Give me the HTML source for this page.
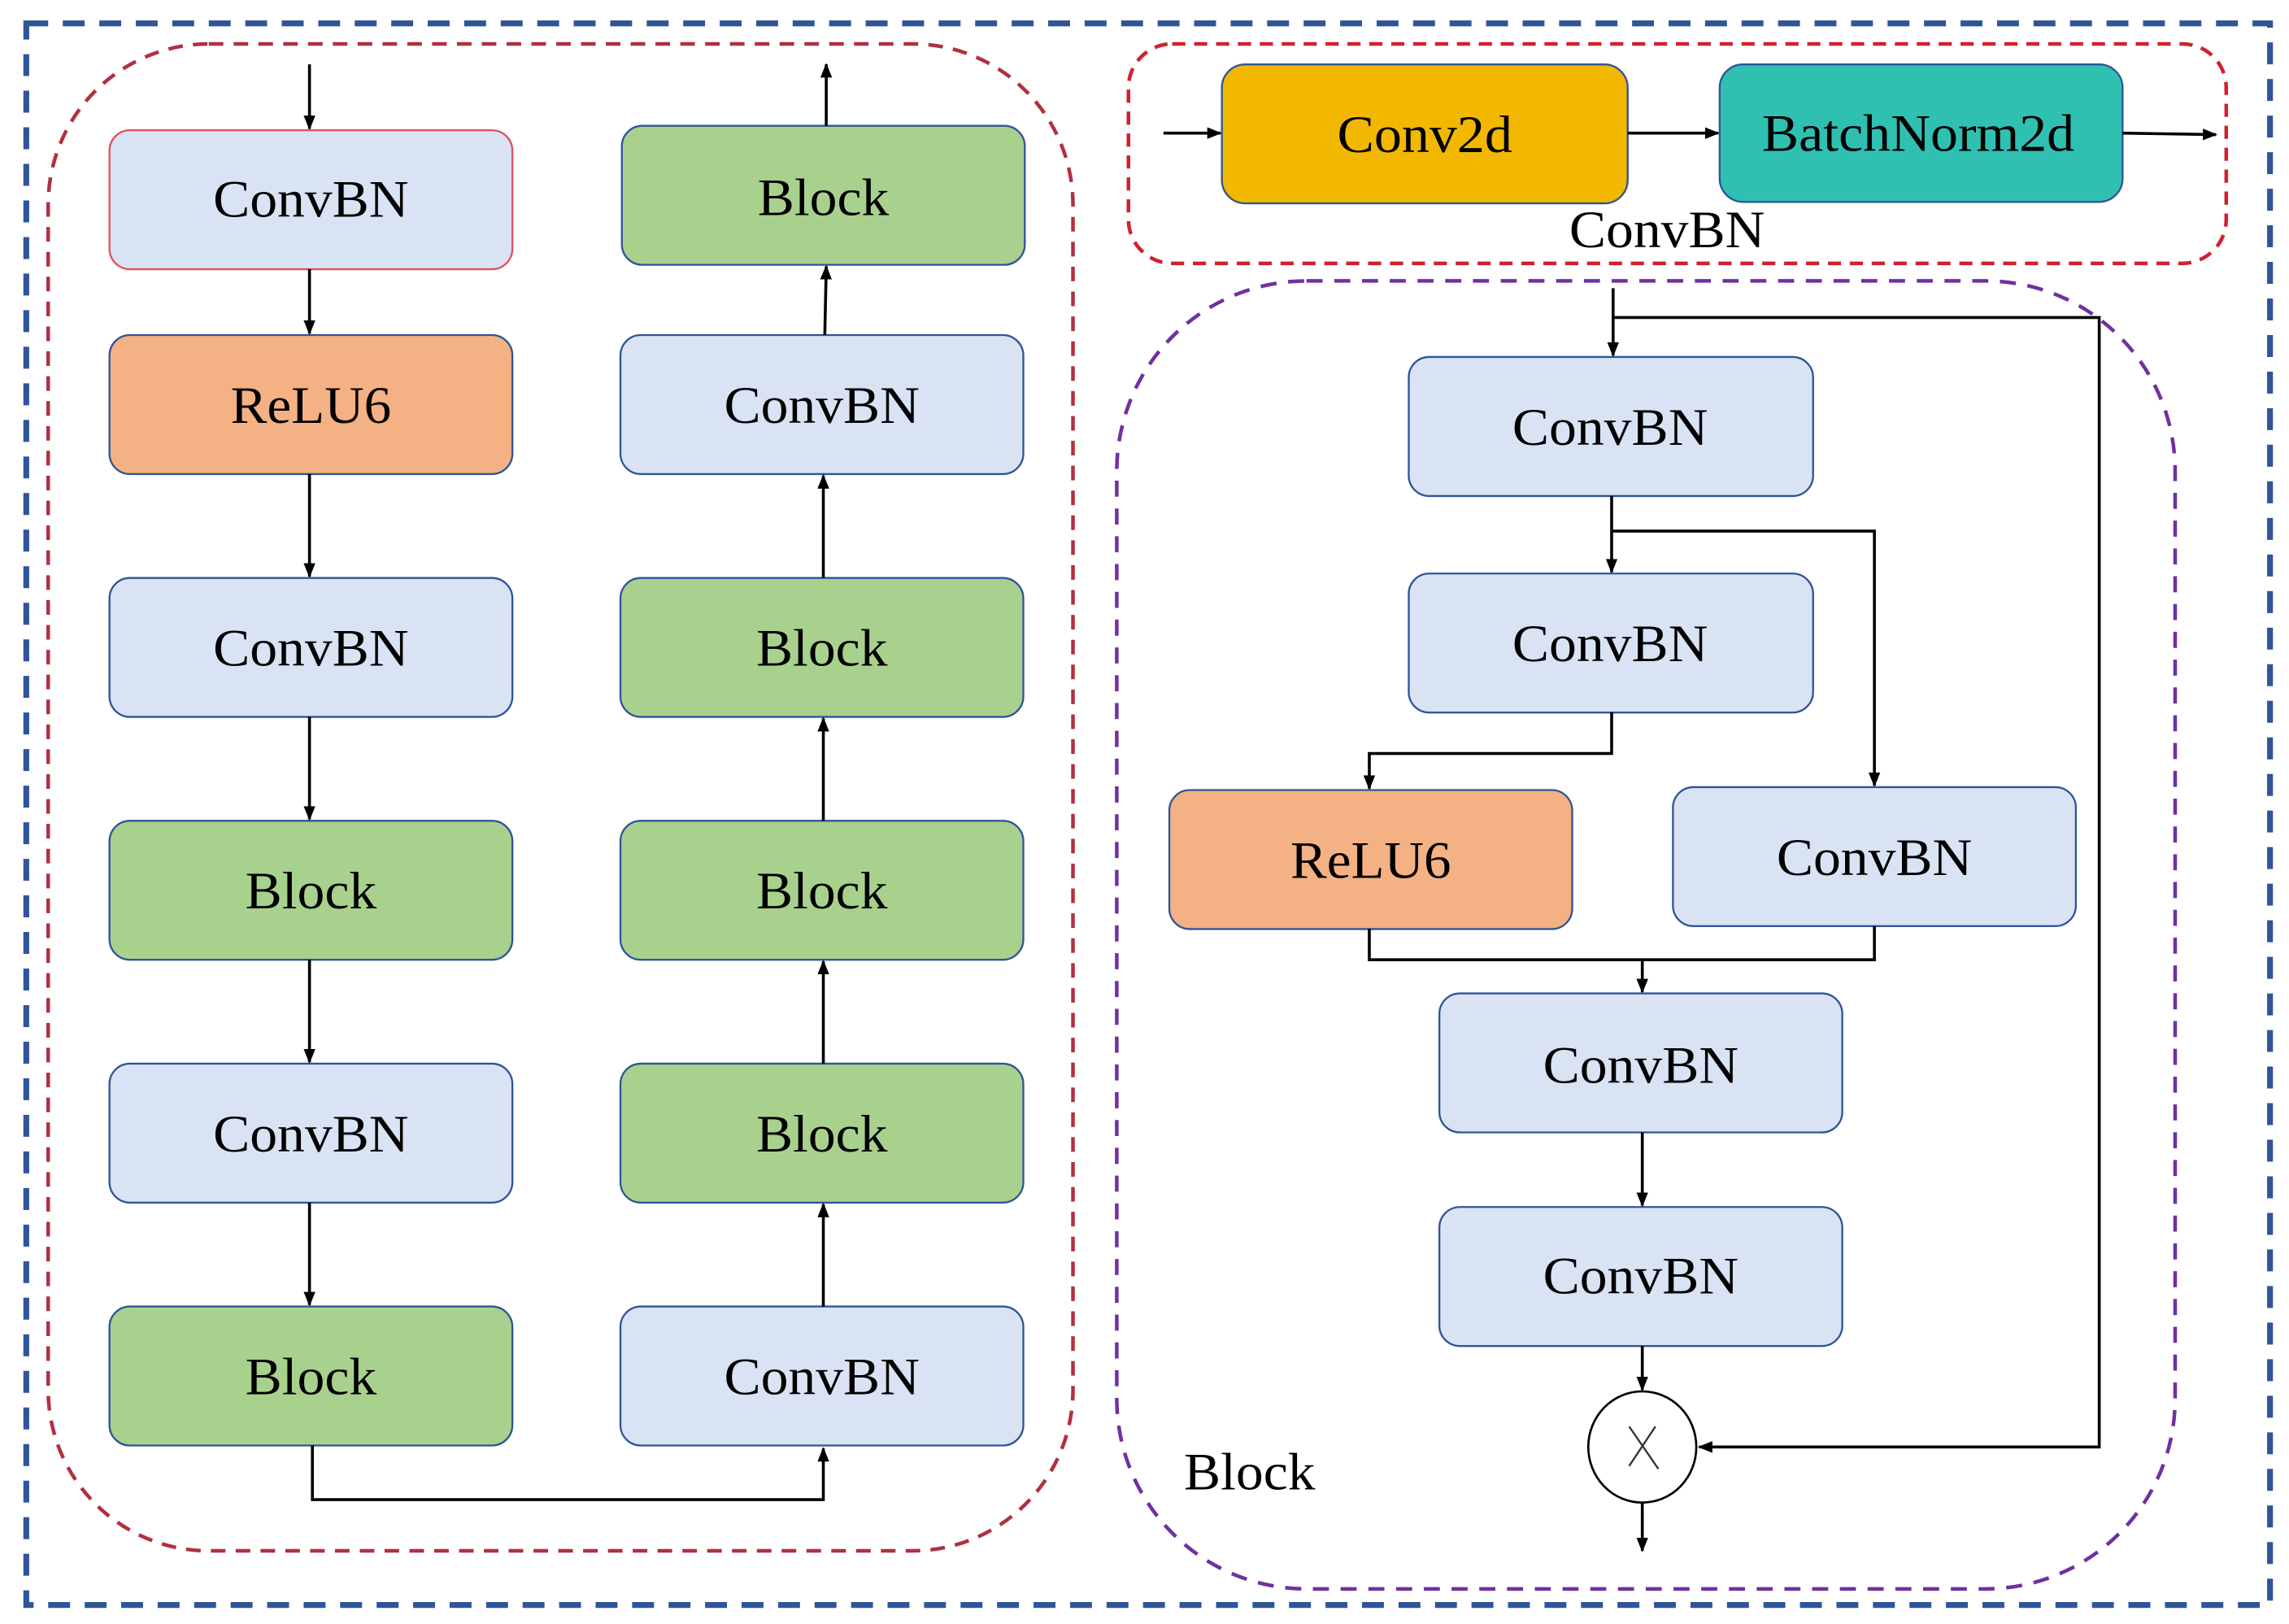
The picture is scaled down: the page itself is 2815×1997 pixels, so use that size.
<!DOCTYPE html>
<html><head><meta charset="utf-8"><style>html,body{margin:0;padding:0;background:#fff}svg{display:block}</style></head>
<body>
<svg width="2815" height="1997" viewBox="0 0 1568 1110" preserveAspectRatio="none" xmlns="http://www.w3.org/2000/svg">
<defs>
<marker id="a" markerWidth="10" markerHeight="10" refX="9" refY="5" orient="auto" markerUnits="userSpaceOnUse"><path d="M0,1 L10,5 L0,9 Z" fill="#000"/></marker>
</defs>
<rect width="1568" height="1110" fill="#fff"/>
<rect x="18" y="16" width="1537" height="1081" fill="none" stroke="#2f5597" stroke-width="4" stroke-dasharray="15,10"/>
<rect x="33" y="30" width="702" height="1030" rx="110" fill="none" stroke="#b03040" stroke-width="2.5" stroke-dasharray="10,7"/>
<rect x="773" y="30" width="752" height="150" rx="30" fill="none" stroke="#d02030" stroke-width="2.5" stroke-dasharray="9,6"/>
<rect x="765" y="192" width="725" height="894" rx="130" fill="none" stroke="#7030a0" stroke-width="2.5" stroke-dasharray="11,8"/>

<g stroke-width="1.3" font-family="Liberation Serif, serif" font-size="36" text-anchor="middle">
<rect x="75" y="89" width="276" height="95" rx="14" fill="#dae3f3" stroke="#e05060"/>
<rect x="75" y="229" width="276" height="95" rx="14" fill="#f4b183" stroke="#2f5597"/>
<rect x="75" y="395" width="276" height="95" rx="14" fill="#dae3f3" stroke="#2f5597"/>
<rect x="75" y="561" width="276" height="95" rx="14" fill="#a9d18e" stroke="#2f5597"/>
<rect x="75" y="727" width="276" height="95" rx="14" fill="#dae3f3" stroke="#2f5597"/>
<rect x="75" y="893" width="276" height="95" rx="14" fill="#a9d18e" stroke="#2f5597"/>
<rect x="426" y="86" width="276" height="95" rx="14" fill="#a9d18e" stroke="#2f5597"/>
<rect x="425" y="229" width="276" height="95" rx="14" fill="#dae3f3" stroke="#2f5597"/>
<rect x="425" y="395" width="276" height="95" rx="14" fill="#a9d18e" stroke="#2f5597"/>
<rect x="425" y="561" width="276" height="95" rx="14" fill="#a9d18e" stroke="#2f5597"/>
<rect x="425" y="727" width="276" height="95" rx="14" fill="#a9d18e" stroke="#2f5597"/>
<rect x="425" y="893" width="276" height="95" rx="14" fill="#dae3f3" stroke="#2f5597"/>
<rect x="837" y="44" width="278" height="95" rx="16" fill="#f2b700" stroke="#2f5597"/>
<rect x="1178" y="44" width="276" height="94" rx="16" fill="#2fc0b2" stroke="#2f5597"/>
<rect x="965" y="244" width="277" height="95" rx="14" fill="#dae3f3" stroke="#2f5597"/>
<rect x="965" y="392" width="277" height="95" rx="14" fill="#dae3f3" stroke="#2f5597"/>
<rect x="801" y="540" width="276" height="95" rx="14" fill="#f4b183" stroke="#2f5597"/>
<rect x="1146" y="538" width="276" height="95" rx="14" fill="#dae3f3" stroke="#2f5597"/>
<rect x="986" y="679" width="276" height="95" rx="14" fill="#dae3f3" stroke="#2f5597"/>
<rect x="986" y="825" width="276" height="95" rx="14" fill="#dae3f3" stroke="#2f5597"/>

<g stroke="none" fill="#000">
<text x="213" y="148" textLength="134" lengthAdjust="spacingAndGlyphs">ConvBN</text>
<text x="213" y="289" textLength="110" lengthAdjust="spacingAndGlyphs">ReLU6</text>
<text x="213" y="455" textLength="134" lengthAdjust="spacingAndGlyphs">ConvBN</text>
<text x="213" y="621" textLength="90" lengthAdjust="spacingAndGlyphs">Block</text>
<text x="213" y="787" textLength="134" lengthAdjust="spacingAndGlyphs">ConvBN</text>
<text x="213" y="953" textLength="90" lengthAdjust="spacingAndGlyphs">Block</text>
<text x="564" y="147" textLength="90" lengthAdjust="spacingAndGlyphs">Block</text>
<text x="563" y="289" textLength="134" lengthAdjust="spacingAndGlyphs">ConvBN</text>
<text x="563" y="455" textLength="90" lengthAdjust="spacingAndGlyphs">Block</text>
<text x="563" y="621" textLength="90" lengthAdjust="spacingAndGlyphs">Block</text>
<text x="563" y="787" textLength="90" lengthAdjust="spacingAndGlyphs">Block</text>
<text x="563" y="953" textLength="134" lengthAdjust="spacingAndGlyphs">ConvBN</text>
<text x="976" y="104" textLength="120" lengthAdjust="spacingAndGlyphs">Conv2d</text>
<text x="1314" y="103" textLength="214" lengthAdjust="spacingAndGlyphs">BatchNorm2d</text>
<text x="1142" y="169" textLength="134" lengthAdjust="spacingAndGlyphs">ConvBN</text>
<text x="1103" y="304" textLength="134" lengthAdjust="spacingAndGlyphs">ConvBN</text>
<text x="1103" y="452" textLength="134" lengthAdjust="spacingAndGlyphs">ConvBN</text>
<text x="939" y="600" textLength="110" lengthAdjust="spacingAndGlyphs">ReLU6</text>
<text x="1284" y="598" textLength="134" lengthAdjust="spacingAndGlyphs">ConvBN</text>
<text x="1124" y="740" textLength="134" lengthAdjust="spacingAndGlyphs">ConvBN</text>
<text x="1124" y="884" textLength="134" lengthAdjust="spacingAndGlyphs">ConvBN</text>
<text x="856" y="1018" textLength="90" lengthAdjust="spacingAndGlyphs">Block</text>
</g>
</g>

<g stroke="#000" stroke-width="2" fill="none" marker-end="url(#a)">
<line x1="212" y1="44" x2="212" y2="88"/>
<line x1="212" y1="184" x2="212" y2="228"/>
<line x1="212" y1="324" x2="212" y2="394"/>
<line x1="212" y1="490" x2="212" y2="560"/>
<line x1="212" y1="656" x2="212" y2="726"/>
<line x1="212" y1="822" x2="212" y2="892"/>
<polyline points="214,988 214,1025 564,1025 564,990"/>
<line x1="564" y1="893" x2="564" y2="823"/>
<line x1="564" y1="727" x2="564" y2="657"/>
<line x1="564" y1="561" x2="564" y2="491"/>
<line x1="564" y1="395" x2="564" y2="325"/>
<line x1="565" y1="229" x2="566" y2="182"/>
<line x1="566" y1="86" x2="566" y2="44"/>
<line x1="797" y1="91" x2="836" y2="91"/>
<line x1="1115" y1="91" x2="1177" y2="91"/>
<line x1="1454" y1="91" x2="1518" y2="92"/>
<line x1="1105" y1="197" x2="1105" y2="243"/>
<line x1="1104" y1="339" x2="1104" y2="391"/>
<polyline points="1104,363 1284,363 1284,537"/>
<polyline points="1104,487 1104,515 938,515 938,539"/>
<line x1="1125" y1="656" x2="1125" y2="678"/>
<line x1="1125" y1="774" x2="1125" y2="824"/>
<line x1="1125" y1="920" x2="1125" y2="950"/>
<line x1="1125" y1="1027" x2="1125" y2="1060"/>
<polyline points="1105,217 1438,217 1438,989 1164,989"/>
</g>
<polyline points="938,635 938,656 1284,656 1284,633" fill="none" stroke="#000" stroke-width="2"/>
<ellipse cx="1125" cy="989" rx="37" ry="38" fill="#fff" stroke="#000" stroke-width="1.5"/>
<g stroke="#333" stroke-width="1.3"><line x1="1116" y1="975" x2="1136" y2="1004"/><line x1="1134" y1="975" x2="1116" y2="1002"/></g>
</svg>
</body></html>
